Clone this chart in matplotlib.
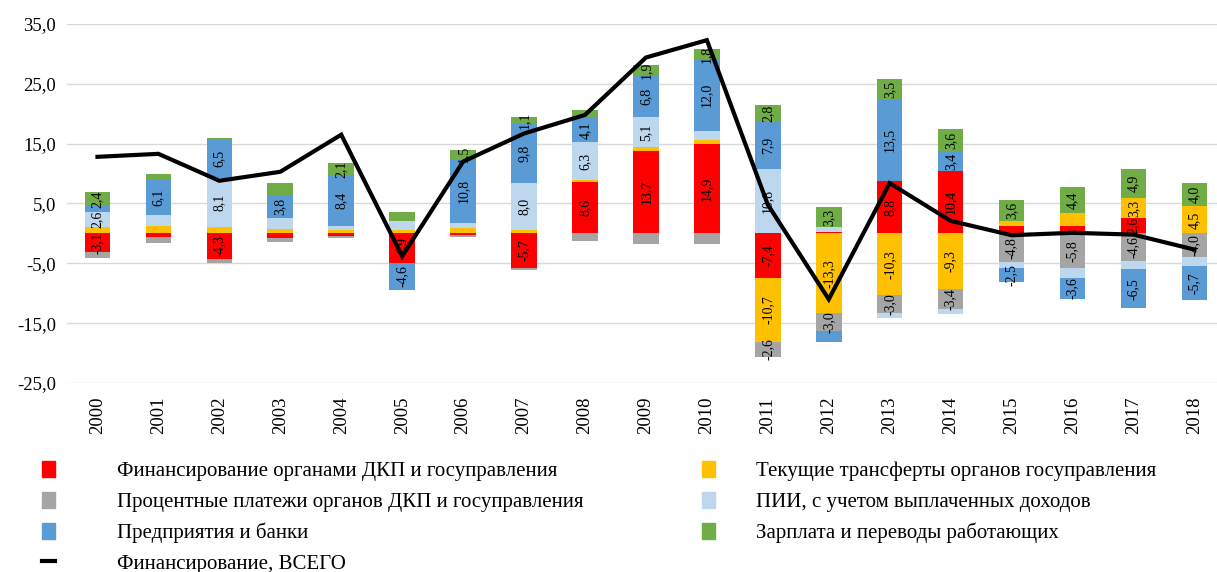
import matplotlib
matplotlib.use("Agg")
import matplotlib.pyplot as plt
from matplotlib.patches import Patch
from matplotlib.lines import Line2D
import numpy as np

plt.rcParams['font.family'] = ['Liberation Serif', 'DejaVu Serif']

years = [str(y) for y in range(2000, 2019)]

fin_dkp     = [-3.1, -0.6, -4.3, -0.7, -0.5, -4.9, -0.3, -5.7, 8.6, 13.7, 14.9, -7.4, 0.3, 8.8, 10.4, 1.3, 1.3, 2.6, 0.0]
transfers   = [1.0, 1.3, 1.1, 0.8, 0.6, 0.5, 0.9, 0.5, 0.3, 0.7, 0.7, -10.7, -13.3, -10.3, -9.3, 0.7, 2.1, 3.3, 4.5]
interest    = [-1.0, -1.0, -0.6, -0.7, -0.2, 0.0, -0.3, -0.4, -1.2, -1.8, -1.8, -2.6, -3.0, -3.0, -3.4, -4.8, -5.8, -4.6, -4.0]
fdi         = [2.6, 1.7, 8.1, 1.8, 0.7, 1.6, 0.8, 8.0, 6.3, 5.1, 1.5, 10.8, 0.8, -0.8, -0.8, -0.9, -1.6, -1.4, -1.4]
enterprises = [0.9, 6.1, 6.5, 3.8, 8.4, -4.6, 10.8, 9.8, 4.1, 6.8, 12.0, 7.9, -1.8, 13.5, 3.4, -2.5, -3.6, -6.5, -5.7]
wages       = [2.4, 0.9, 0.3, 2.1, 2.1, 1.5, 1.5, 1.1, 1.3, 1.9, 1.8, 2.8, 3.3, 3.5, 3.6, 3.6, 4.4, 4.9, 4.0]
total       = [12.8, 13.3, 8.8, 10.3, 16.5, -3.8, 12.0, 16.7, 19.8, 29.4, 32.3, 4.8, -11.0, 8.4, 2.1, -0.3, 0.1, -0.2, -2.7]

# which segment values carry a data label in the reference
show_fin_dkp     = [1, 0, 1, 0, 0, 1, 0, 1, 1, 1, 1, 1, 0, 1, 1, 0, 0, 1, 0]
show_transfers   = [0, 0, 0, 0, 0, 0, 0, 0, 0, 0, 0, 1, 1, 1, 1, 0, 0, 1, 1]
show_interest    = [0, 0, 0, 0, 0, 0, 0, 0, 0, 0, 0, 1, 1, 1, 1, 1, 1, 1, 1]
show_fdi         = [1, 0, 1, 0, 0, 0, 0, 1, 1, 1, 0, 1, 0, 0, 0, 0, 0, 0, 0]
show_enterprises = [0, 1, 1, 1, 1, 1, 1, 1, 1, 1, 1, 1, 0, 1, 1, 1, 1, 1, 1]
show_wages       = [1, 0, 0, 0, 1, 0, 1, 1, 0, 1, 1, 1, 1, 1, 1, 1, 1, 1, 1]

names = ["Финансирование органами ДКП и госуправления",
         "Текущие трансферты органов госуправления",
         "Процентные платежи органов ДКП и госуправления",
         "ПИИ, с учетом выплаченных доходов",
         "Предприятия и банки",
         "Зарплата и переводы работающих"]
line_name = "Финансирование, ВСЕГО"
colors = ["#FF0000", "#FFC000", "#A5A5A5", "#BDD7EE", "#5B9BD5", "#70AD47"]

series = [fin_dkp, transfers, interest, fdi, enterprises, wages]
shows = [show_fin_dkp, show_transfers, show_interest, show_fdi, show_enterprises, show_wages]

W, H = 1217, 572
fig = plt.figure(figsize=(W / 100, H / 100), dpi=100)
left_px, right_px, top_px, bot_px = 67, 1217, 24, 383
ax = fig.add_axes([left_px / W, 1 - bot_px / H, (right_px - left_px) / W, (bot_px - top_px) / H])

x = np.arange(len(years))
bw = 0.42
pos_base = np.zeros(len(years))
neg_base = np.zeros(len(years))
for vals, col, show in zip(series, colors, shows):
    v = np.array(vals)
    bottoms = np.where(v >= 0, pos_base, neg_base)
    ax.bar(x, v, bw, bottom=bottoms, color=col, zorder=2)
    for i in range(len(v)):
        if show[i]:
            ax.text(x[i], bottoms[i] + v[i] / 2, f"{v[i]:.1f}".replace(".", ","),
                    rotation=90, ha="center", va="center", fontsize=10, color="black", zorder=3)
    pos_base = np.where(v >= 0, pos_base + v, pos_base)
    neg_base = np.where(v < 0, neg_base + v, neg_base)

ax.plot(x, total, color="black", lw=3, zorder=4, solid_joinstyle="miter")

ax.set_ylim(-25, 35)
ax.set_yticks(np.arange(-25, 36, 10))
ax.set_yticklabels([f"{t:.1f}".replace(".", ",") for t in np.arange(-25, 36, 10)], fontsize=13.5)
ax.set_xlim(-0.5, -0.5 + (right_px - left_px) / 60.94)
ax.set_xticks(x)
ax.set_xticklabels(years, rotation=90, fontsize=13.5)
ax.tick_params(axis="both", length=0)
ax.tick_params(axis="y", pad=8)
ax.tick_params(axis="x", pad=10)
ax.grid(axis="y", color="#D9D9D9", lw=1, zorder=0)
ax.set_axisbelow(True)
for s in ax.spines.values():
    s.set_visible(False)

common = dict(loc="upper left", frameon=False, fontsize=15, handlelength=0.6, handleheight=0.8,
              labelspacing=0.5, borderaxespad=0, borderpad=0.2)
h1 = [Patch(color=colors[0]), Patch(color=colors[2]), Patch(color=colors[4]),
      Line2D([], [], color="black", lw=3)]
l1 = [names[0], names[2], names[4], line_name]
leg1 = fig.legend(h1, l1, bbox_to_anchor=(38 / W, 1 - 457 / H), handletextpad=3.0, **common)
h2 = [Patch(color=colors[1]), Patch(color=colors[3]), Patch(color=colors[5])]
l2 = [names[1], names[3], names[5]]
leg2 = fig.legend(h2, l2, bbox_to_anchor=(698 / W, 1 - 457 / H), handletextpad=2.0, **common)

fig.savefig("out.png", dpi=100)
